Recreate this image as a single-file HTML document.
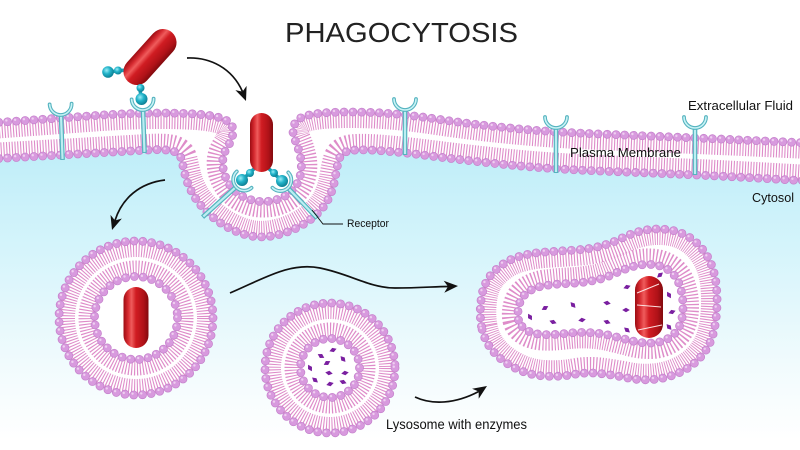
<!DOCTYPE html>
<html><head><meta charset="utf-8">
<style>
html,body{margin:0;padding:0;background:#fff}
svg{display:block}
.t{fill:none;stroke:#de8cc9;stroke-dasharray:1.1 1.7}
.b1{fill:none;stroke:#c480cb;stroke-width:8.8;stroke-linecap:round;stroke-dasharray:0 8.8}
.b2{fill:none;stroke:#d89ade;stroke-width:7.4;stroke-linecap:round;stroke-dasharray:0 8.8}
.b3{fill:none;stroke:#efd0f1;stroke-width:2.4;stroke-linecap:round;stroke-dasharray:0 8.8}
.rs1{stroke:#55b3bf;stroke-width:4.6;fill:none}
.rs2{stroke:#bdeef2;stroke-width:2.2;fill:none}
.rc1{stroke:#55b3bf;stroke-width:3.8;fill:none;stroke-linecap:round}
.rc2{stroke:#c8f3f6;stroke-width:1.6;fill:none;stroke-linecap:round}
.rod{stroke:#1a9db3;stroke-width:3.5}
.arr{fill:none;stroke:#111;stroke-width:1.7}
.lbl{font-family:"Liberation Sans","DejaVu Sans",sans-serif;fill:#111}
</style></head>
<body>
<svg width="800" height="450" viewBox="0 0 800 450" xmlns="http://www.w3.org/2000/svg">
<defs>
  <linearGradient id="cy" gradientUnits="userSpaceOnUse" x1="0" y1="140" x2="0" y2="440">
    <stop offset="0" stop-color="#bdedf8"/>
    <stop offset="0.35" stop-color="#d4f4fb"/>
    <stop offset="0.75" stop-color="#f1fbfd"/>
    <stop offset="1" stop-color="#ffffff"/>
  </linearGradient>
  <linearGradient id="red" x1="0" y1="0" x2="1" y2="0">
    <stop offset="0" stop-color="#9c0c12"/>
    <stop offset="0.18" stop-color="#d62a30"/>
    <stop offset="0.32" stop-color="#ef5c5c"/>
    <stop offset="0.5" stop-color="#d01c22"/>
    <stop offset="0.8" stop-color="#b01218"/>
    <stop offset="1" stop-color="#820a0e"/>
  </linearGradient>
  <radialGradient id="ball" cx="0.38" cy="0.35" r="0.7">
    <stop offset="0" stop-color="#9bedf7"/>
    <stop offset="0.45" stop-color="#22b3c9"/>
    <stop offset="1" stop-color="#0b7a8e"/>
  </radialGradient>

  <path id="top" d="M-10,123 L25,120.5 Q60,118 95,115.5 Q130,113 160,113 Q190,113 206,115 Q222,117 228,121.5 Q234,126 233,133 Q232,140 228,146 Q224,152 223,158.5 Q222,165 224,172.5 Q226,180 231,186.5 Q236,193 243,196.5 Q250,200 256.5,201 Q263,202 270.5,201 Q278,200 285,196 Q292,192 296,185.5 Q300,179 301,171 Q302,163 300,155 Q298,147 295,140 Q292,133 293.5,127 Q295,121 300.5,118 Q306,115 318,113.5 Q330,112 350,112 Q370,112 390,113.5 Q410,115 440,119.5 Q470,124 510,128 Q550,132 600,134 Q650,136 685,137.5 Q720,139 765,141 L810,143"/>
  <path id="bot" d="M-10,159 L25,157 Q60,155 95,153 Q130,151 147.5,150 Q165,149 172.5,151 Q180,153 181.5,159.5 Q183,166 185,174.5 Q187,183 192,192.5 Q197,202 206.5,211.5 Q216,221 228,227.5 Q240,234 251,236 Q262,238 274.5,235.5 Q287,233 298.5,227 Q310,221 318,213 Q326,205 330,195.5 Q334,186 335.5,176 Q337,166 339,159.5 Q341,153 348.5,151 Q356,149 378,150.5 Q400,152 435,156.5 Q470,161 510,165 Q550,169 600,171 Q650,173 685,174.5 Q720,176 765,178.5 L810,181"/>

  <path id="po" d="M481.5,326.5 Q479,313 481.5,297 Q484,281 494.5,271 Q505,261 517.5,257 Q530,253 545,252 Q560,251 575,250 Q590,249 601,246 Q612,243 622,238 Q632,233 643.5,230.5 Q655,228 667.5,229.5 Q680,231 690.5,238 Q701,245 708,257.5 Q715,270 716.5,287.5 Q718,305 715.5,322.5 Q713,340 705,351.5 Q697,363 684.5,370 Q672,377 657.5,379 Q643,381 628,378 Q613,375 600,373.5 Q587,372 573.5,374.5 Q560,377 544,376 Q528,375 514,367.5 Q500,360 492,350 Q484,340 481.5,326.5 Z"/>
  <path id="pi" d="M518.5,320 Q517,314 519,305.5 Q521,297 528,292 Q535,287 545.5,285.5 Q556,284 568,283.5 Q580,283 591.5,281 Q603,279 612.5,274.5 Q622,270 631.5,267 Q641,264 651,264.5 Q661,265 668.5,270 Q676,275 679.5,285 Q683,295 683,306.5 Q683,318 679.5,326 Q676,334 668,338.5 Q660,343 650,343 Q640,343 630.5,340.5 Q621,338 610.5,335.5 Q600,333 588.5,332.5 Q577,332 565,333.5 Q553,335 543,334.5 Q533,334 526.5,330 Q520,326 518.5,320 Z"/>

  <mask id="mm" maskUnits="userSpaceOnUse" x="-20" y="0" width="840" height="470">
    <path fill="#fff" d="M-10,123 L25,120.5 Q60,118 95,115.5 Q130,113 160,113 Q190,113 206,115 Q222,117 228,121.5 Q234,126 233,133 Q232,140 228,146 Q224,152 223,158.5 Q222,165 224,172.5 Q226,180 231,186.5 Q236,193 243,196.5 Q250,200 256.5,201 Q263,202 270.5,201 Q278,200 285,196 Q292,192 296,185.5 Q300,179 301,171 Q302,163 300,155 Q298,147 295,140 Q292,133 293.5,127 Q295,121 300.5,118 Q306,115 318,113.5 Q330,112 350,112 Q370,112 390,113.5 Q410,115 440,119.5 Q470,124 510,128 Q550,132 600,134 Q650,136 685,137.5 Q720,139 765,141 L810,143 L810,460 L-10,460 Z"/>
    <path fill="#000" d="M-10,159 L25,157 Q60,155 95,153 Q130,151 147.5,150 Q165,149 172.5,151 Q180,153 181.5,159.5 Q183,166 185,174.5 Q187,183 192,192.5 Q197,202 206.5,211.5 Q216,221 228,227.5 Q240,234 251,236 Q262,238 274.5,235.5 Q287,233 298.5,227 Q310,221 318,213 Q326,205 330,195.5 Q334,186 335.5,176 Q337,166 339,159.5 Q341,153 348.5,151 Q356,149 378,150.5 Q400,152 435,156.5 Q470,161 510,165 Q550,169 600,171 Q650,173 685,174.5 Q720,176 765,178.5 L810,181 L810,460 L-10,460 Z"/>
  </mask>
  <clipPath id="pc">
    <path clip-rule="evenodd" d="M481.5,326.5 Q479,313 481.5,297 Q484,281 494.5,271 Q505,261 517.5,257 Q530,253 545,252 Q560,251 575,250 Q590,249 601,246 Q612,243 622,238 Q632,233 643.5,230.5 Q655,228 667.5,229.5 Q680,231 690.5,238 Q701,245 708,257.5 Q715,270 716.5,287.5 Q718,305 715.5,322.5 Q713,340 705,351.5 Q697,363 684.5,370 Q672,377 657.5,379 Q643,381 628,378 Q613,375 600,373.5 Q587,372 573.5,374.5 Q560,377 544,376 Q528,375 514,367.5 Q500,360 492,350 Q484,340 481.5,326.5 Z M518.5,320 Q517,314 519,305.5 Q521,297 528,292 Q535,287 545.5,285.5 Q556,284 568,283.5 Q580,283 591.5,281 Q603,279 612.5,274.5 Q622,270 631.5,267 Q641,264 651,264.5 Q661,265 668.5,270 Q676,275 679.5,285 Q683,295 683,306.5 Q683,318 679.5,326 Q676,334 668,338.5 Q660,343 650,343 Q640,343 630.5,340.5 Q621,338 610.5,335.5 Q600,333 588.5,332.5 Q577,332 565,333.5 Q553,335 543,334.5 Q533,334 526.5,330 Q520,326 518.5,320 Z"/>
  </clipPath>
  <path id="enz" d="M-3.8,0 L0,-2.3 L3.8,0 L0,2.3Z" fill="#7a1fa0"/>
</defs>

<rect width="800" height="450" fill="#fff"/>
<!-- cytosol -->
<path fill="url(#cy)" d="M-10,159 L25,157 Q60,155 95,153 Q130,151 147.5,150 Q165,149 172.5,151 Q180,153 181.5,159.5 Q183,166 185,174.5 Q187,183 192,192.5 Q197,202 206.5,211.5 Q216,221 228,227.5 Q240,234 251,236 Q262,238 274.5,235.5 Q287,233 298.5,227 Q310,221 318,213 Q326,205 330,195.5 Q334,186 335.5,176 Q337,166 339,159.5 Q341,153 348.5,151 Q356,149 378,150.5 Q400,152 435,156.5 Q470,161 510,165 Q550,169 600,171 Q650,173 685,174.5 Q720,176 765,178.5 L810,181 L810,460 L-10,460 Z"/>

<!-- plasma membrane tails -->
<g mask="url(#mm)">
  <use href="#top" class="t" style="stroke-width:32"/>
  <use href="#bot" class="t" style="stroke-width:32"/>
</g>
<!-- plasma membrane heads -->
<use href="#top" class="b1"/><use href="#top" class="b2"/><use href="#top" class="b3" transform="translate(-1.2,-1.3)"/>
<use href="#bot" class="b1"/><use href="#bot" class="b2"/><use href="#bot" class="b3" transform="translate(-1.2,-1.3)"/>

<!-- receptors on membrane -->
<g transform="translate(61,115) rotate(-2)"><line x1="0" y1="0" x2="0" y2="45" class="rs1"/><line x1="0" y1="1" x2="0" y2="44" class="rs2"/><path d="M-11,-11 A11,11 0 0 0 11,-11" class="rc1"/><path d="M-11,-11 A11,11 0 0 0 11,-11" class="rc2"/></g>
<g transform="translate(143,110) rotate(-2)"><line x1="0" y1="0" x2="0" y2="43" class="rs1"/><line x1="0" y1="1" x2="0" y2="42" class="rs2"/><path d="M-11,-11 A11,11 0 0 0 11,-11" class="rc1"/><path d="M-11,-11 A11,11 0 0 0 11,-11" class="rc2"/></g>
<g transform="translate(405,110)"><line x1="0" y1="0" x2="0" y2="45" class="rs1"/><line x1="0" y1="1" x2="0" y2="44" class="rs2"/><path d="M-11,-11 A11,11 0 0 0 11,-11" class="rc1"/><path d="M-11,-11 A11,11 0 0 0 11,-11" class="rc2"/></g>
<g transform="translate(556,128)"><line x1="0" y1="0" x2="0" y2="45" class="rs1"/><line x1="0" y1="1" x2="0" y2="44" class="rs2"/><path d="M-11,-11 A11,11 0 0 0 11,-11" class="rc1"/><path d="M-11,-11 A11,11 0 0 0 11,-11" class="rc2"/></g>
<g transform="translate(695,128)"><line x1="0" y1="0" x2="0" y2="47" class="rs1"/><line x1="0" y1="1" x2="0" y2="46" class="rs2"/><path d="M-11,-11 A11,11 0 0 0 11,-11" class="rc1"/><path d="M-11,-11 A11,11 0 0 0 11,-11" class="rc2"/></g>
<!-- pocket receptors -->
<g transform="translate(236,187) rotate(48)"><line x1="0" y1="0" x2="0" y2="45" class="rs1"/><line x1="0" y1="1" x2="0" y2="44" class="rs2"/><path d="M-11,-11 A11,11 0 0 0 11,-11" class="rc1"/><path d="M-11,-11 A11,11 0 0 0 11,-11" class="rc2"/></g>
<g transform="translate(288,188) rotate(-44)"><line x1="0" y1="0" x2="0" y2="42" class="rs1"/><line x1="0" y1="1" x2="0" y2="41" class="rs2"/><path d="M-11,-11 A11,11 0 0 0 11,-11" class="rc1"/><path d="M-11,-11 A11,11 0 0 0 11,-11" class="rc2"/></g>

<!-- top bacterium + ligands -->
<line x1="126" y1="70" x2="108" y2="72" class="rod"/>
<line x1="139" y1="80" x2="141" y2="98" class="rod"/>
<g transform="translate(150,57) rotate(42)"><rect x="-13.5" y="-33" width="27" height="66" rx="13.5" fill="url(#red)"/></g>
<circle cx="118" cy="70.5" r="4" fill="url(#ball)"/>
<circle cx="108" cy="72" r="5.8" fill="url(#ball)"/>
<circle cx="140.5" cy="88" r="4" fill="url(#ball)"/>
<circle cx="141.5" cy="99" r="6" fill="url(#ball)"/>

<!-- pocket bacterium + ligands -->
<line x1="257" y1="166" x2="242" y2="180" class="rod"/>
<line x1="266" y1="166" x2="282" y2="181" class="rod"/>
<rect x="250" y="113" width="23" height="59" rx="11.5" fill="url(#red)"/>
<circle cx="250" cy="173" r="4" fill="url(#ball)"/>
<circle cx="242" cy="180" r="6" fill="url(#ball)"/>
<circle cx="274" cy="173" r="4" fill="url(#ball)"/>
<circle cx="282" cy="181" r="6" fill="url(#ball)"/>

<!-- receptor leader -->
<path d="M312,210 L323,224 L343,224" fill="none" stroke="#111" stroke-width="0.9"/>

<!-- left vesicle (phagosome) -->
<circle cx="136" cy="318" r="77" fill="#fff"/>
<circle cx="136" cy="318" r="69" class="t" style="stroke-width:16"/>
<circle cx="136" cy="318" r="49.5" class="t" style="stroke-width:16"/>
<circle cx="136" cy="318" r="41.5" fill="#fff"/>
<circle cx="136" cy="318" r="77" class="b1"/><circle cx="136" cy="318" r="77" class="b2"/><circle cx="134.8" cy="316.7" r="77" class="b3"/>
<circle cx="136" cy="318" r="41.5" class="b1"/><circle cx="136" cy="318" r="41.5" class="b2"/><circle cx="134.8" cy="316.7" r="41.5" class="b3"/>
<rect x="123.5" y="287" width="25" height="61" rx="12.5" fill="url(#red)"/>

<!-- lysosome -->
<circle cx="330" cy="368" r="65" fill="#fff"/>
<circle cx="330" cy="368" r="57" class="t" style="stroke-width:16"/>
<circle cx="330" cy="368" r="37.5" class="t" style="stroke-width:16"/>
<circle cx="330" cy="368" r="29.5" fill="#fff"/>
<circle cx="330" cy="368" r="65" class="b1"/><circle cx="330" cy="368" r="65" class="b2"/><circle cx="328.8" cy="366.7" r="65" class="b3"/>
<circle cx="330" cy="368" r="29.5" class="b1"/><circle cx="330" cy="368" r="29.5" class="b2"/><circle cx="328.8" cy="366.7" r="29.5" class="b3"/>
<use href="#enz" transform="translate(321,356) rotate(30)"/>
<use href="#enz" transform="translate(333,350) rotate(-20)"/>
<use href="#enz" transform="translate(343,359) rotate(50)"/>
<use href="#enz" transform="translate(327,363) rotate(-30)"/>
<use href="#enz" transform="translate(310,368) rotate(60)"/>
<use href="#enz" transform="translate(329,373) rotate(10)"/>
<use href="#enz" transform="translate(345,373) rotate(-10)"/>
<use href="#enz" transform="translate(315,380) rotate(40)"/>
<use href="#enz" transform="translate(330,384) rotate(-15)"/>
<use href="#enz" transform="translate(343,382) rotate(20)"/>

<!-- phagolysosome -->
<use href="#po" fill="#fff"/>
<g clip-path="url(#pc)">
  <use href="#po" class="t" style="stroke-width:32"/>
  <use href="#pi" class="t" style="stroke-width:32"/>
</g>
<use href="#pi" fill="#fff"/>
<use href="#po" class="b1"/><use href="#po" class="b2"/><use href="#po" class="b3" transform="translate(-1.2,-1.3)"/>
<use href="#pi" class="b1"/><use href="#pi" class="b2"/><use href="#pi" class="b3" transform="translate(-1.2,-1.3)"/>
<rect x="635" y="276" width="28" height="62" rx="14" fill="url(#red)"/>
<g stroke="#fde0e0" stroke-width="1" fill="none">
  <line x1="637" y1="293" x2="659" y2="284"/>
  <line x1="637" y1="305" x2="661" y2="307"/>
  <line x1="638" y1="330" x2="662" y2="325"/>
</g>
<use href="#enz" transform="translate(530,317) rotate(60)"/>
<use href="#enz" transform="translate(545,308) rotate(-30)"/>
<use href="#enz" transform="translate(553,322) rotate(20)"/>
<use href="#enz" transform="translate(573,305) rotate(50)"/>
<use href="#enz" transform="translate(582,320) rotate(-10)"/>
<use href="#enz" transform="translate(607,303) rotate(10)"/>
<use href="#enz" transform="translate(607,322) rotate(20)"/>
<use href="#enz" transform="translate(627,287) rotate(-20)"/>
<use href="#enz" transform="translate(626,310) rotate(0)"/>
<use href="#enz" transform="translate(627,330) rotate(40)"/>
<use href="#enz" transform="translate(660,275) rotate(-40)"/>
<use href="#enz" transform="translate(669,295) rotate(60)"/>
<use href="#enz" transform="translate(672,312) rotate(-20)"/>
<use href="#enz" transform="translate(669,327) rotate(50)"/>

<!-- arrows -->
<path class="arr" d="M187,58 C210,57 232,68 242.5,91.6"/>
<polygon points="246,101 235.4,90.1 242.5,91.6 246.6,85.9" fill="#111"/>
<path class="arr" d="M165,180 C140,183 122,198 115,220.5"/>
<polygon points="112,230 110.5,214.9 115,220.5 121.9,218.5" fill="#111"/>
<path class="arr" d="M230,293 C265,278 290,262 320,268 C350,274 370,288 395,288 C420,288 435,286.5 448,286.5"/>
<polygon points="458,286 443.7,280.7 448,286.5 444.3,292.7" fill="#111"/>
<path class="arr" d="M415,397 C432,405 455,404 478.7,391.5"/>
<polygon points="487,386 472.1,388.7 478.7,391.5 478.7,398.7" fill="#111"/>

<!-- labels -->
<text x="285" y="42" class="lbl" font-size="28" textLength="233" lengthAdjust="spacingAndGlyphs" style="fill:#222">PHAGOCYTOSIS</text>
<text x="688" y="110" class="lbl" font-size="13" textLength="105" lengthAdjust="spacingAndGlyphs">Extracellular Fluid</text>
<text x="570" y="157" class="lbl" font-size="12.5" textLength="111" lengthAdjust="spacingAndGlyphs">Plasma Membrane</text>
<text x="752" y="202" class="lbl" font-size="13" textLength="42" lengthAdjust="spacingAndGlyphs">Cytosol</text>
<text x="347" y="227" class="lbl" font-size="11" textLength="42" lengthAdjust="spacingAndGlyphs">Receptor</text>
<text x="386" y="429" class="lbl" font-size="14" textLength="141" lengthAdjust="spacingAndGlyphs">Lysosome with enzymes</text>
</svg>
</body></html>
